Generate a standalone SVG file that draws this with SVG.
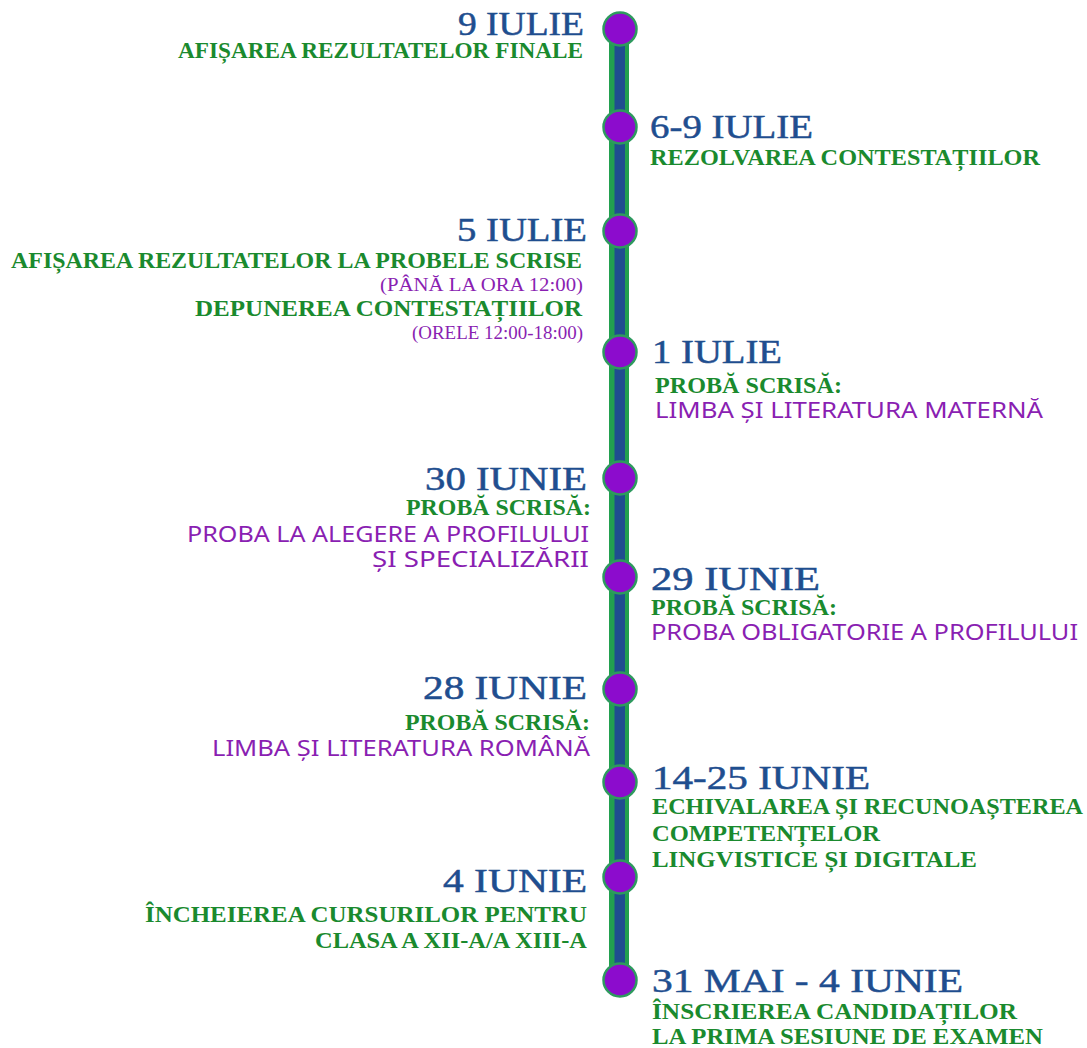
<svg xmlns="http://www.w3.org/2000/svg" width="1087" height="1048" viewBox="0 0 1087 1048">
<style>
.h{font-family:"Liberation Serif","DejaVu Serif",serif;font-size:33px;fill:#1f4e8f;stroke:#1f4e8f;stroke-width:0.5}
.g{font-family:"Liberation Serif","DejaVu Serif",serif;font-weight:bold;font-size:23px;fill:#1a8a2e}
.p{font-family:"Noto Sans","Open Sans",sans-serif;font-size:21px;fill:#8a1fb2}
.ps{font-family:"Liberation Serif","DejaVu Serif",serif;font-size:19px;fill:#8a1fb2}
.dot{fill:#8c0ccd;stroke:#2e9a5e;stroke-width:2.5}
</style>
<rect width="1087" height="1048" fill="#ffffff"/>
<g id="connectors">
<rect x="609" y="29" width="20" height="951" fill="#22a04f"/>
<rect x="614.5" y="29" width="10.5" height="951" fill="#1f4e8f"/>
</g>
<g id="n1">
<circle class="dot" cx="620" cy="29" r="16.5"/>
<text class="h" x="458" y="35" textLength="126" lengthAdjust="spacingAndGlyphs">9 IULIE</text>
<text class="g" x="178" y="58" textLength="405" lengthAdjust="spacingAndGlyphs">AFIȘAREA REZULTATELOR FINALE</text>
</g>
<g id="n2">
<circle class="dot" cx="620" cy="127" r="16.5"/>
<text class="h" x="650" y="138" textLength="163" lengthAdjust="spacingAndGlyphs">6-9 IULIE</text>
<text class="g" x="650" y="165" textLength="390" lengthAdjust="spacingAndGlyphs">REZOLVAREA CONTESTAȚIILOR</text>
</g>
<g id="n3">
<circle class="dot" cx="620" cy="231" r="16.5"/>
<text class="h" x="457" y="241" textLength="130" lengthAdjust="spacingAndGlyphs">5 IULIE</text>
<text class="g" x="11" y="268" textLength="571" lengthAdjust="spacingAndGlyphs">AFIȘAREA REZULTATELOR LA PROBELE SCRISE</text>
<text class="ps" x="380" y="291" textLength="203" lengthAdjust="spacingAndGlyphs">(PÂNĂ LA ORA 12:00)</text>
<text class="g" x="195" y="316" textLength="387" lengthAdjust="spacingAndGlyphs">DEPUNEREA CONTESTAȚIILOR</text>
<text class="ps" x="412" y="339" textLength="171" lengthAdjust="spacingAndGlyphs">(ORELE 12:00-18:00)</text>
</g>
<g id="n4">
<circle class="dot" cx="620" cy="352" r="16.5"/>
<text class="h" x="652" y="363" textLength="130" lengthAdjust="spacingAndGlyphs">1 IULIE</text>
<text class="g" x="655" y="393" textLength="187" lengthAdjust="spacingAndGlyphs">PROBĂ SCRISĂ:</text>
<text class="p" x="655" y="418" textLength="388" lengthAdjust="spacingAndGlyphs">LIMBA ȘI LITERATURA MATERNĂ</text>
</g>
<g id="n5">
<circle class="dot" cx="620" cy="478" r="16.5"/>
<text class="h" x="425" y="490" textLength="162" lengthAdjust="spacingAndGlyphs">30 IUNIE</text>
<text class="g" x="406" y="515" textLength="185" lengthAdjust="spacingAndGlyphs">PROBĂ SCRISĂ:</text>
<text class="p" x="187" y="542" textLength="402" lengthAdjust="spacingAndGlyphs">PROBA LA ALEGERE A PROFILULUI</text>
<text class="p" x="372" y="567" textLength="217" lengthAdjust="spacingAndGlyphs">ȘI SPECIALIZĂRII</text>
</g>
<g id="n6">
<circle class="dot" cx="620" cy="577" r="16.5"/>
<text class="h" x="651" y="590" textLength="169" lengthAdjust="spacingAndGlyphs">29 IUNIE</text>
<text class="g" x="651" y="615" textLength="186" lengthAdjust="spacingAndGlyphs">PROBĂ SCRISĂ:</text>
<text class="p" x="651" y="640" textLength="427" lengthAdjust="spacingAndGlyphs">PROBA OBLIGATORIE A PROFILULUI</text>
</g>
<g id="n7">
<circle class="dot" cx="620" cy="689" r="16.5"/>
<text class="h" x="423" y="699" textLength="164" lengthAdjust="spacingAndGlyphs">28 IUNIE</text>
<text class="g" x="405" y="730" textLength="185" lengthAdjust="spacingAndGlyphs">PROBĂ SCRISĂ:</text>
<text class="p" x="212" y="756" textLength="378" lengthAdjust="spacingAndGlyphs">LIMBA ȘI LITERATURA ROMÂNĂ</text>
</g>
<g id="n8">
<circle class="dot" cx="620" cy="782" r="16.5"/>
<text class="h" x="652" y="789" textLength="218" lengthAdjust="spacingAndGlyphs">14-25 IUNIE</text>
<text class="g" x="652" y="814" textLength="431" lengthAdjust="spacingAndGlyphs">ECHIVALAREA ȘI RECUNOAȘTEREA</text>
<text class="g" x="652" y="841" textLength="228" lengthAdjust="spacingAndGlyphs">COMPETENȚELOR</text>
<text class="g" x="652" y="867" textLength="325" lengthAdjust="spacingAndGlyphs">LINGVISTICE ȘI DIGITALE</text>
</g>
<g id="n9">
<circle class="dot" cx="620" cy="877" r="16.5"/>
<text class="h" x="443" y="892" textLength="144" lengthAdjust="spacingAndGlyphs">4 IUNIE</text>
<text class="g" x="145" y="922" textLength="442" lengthAdjust="spacingAndGlyphs">ÎNCHEIEREA CURSURILOR PENTRU</text>
<text class="g" x="315" y="948" textLength="272" lengthAdjust="spacingAndGlyphs">CLASA A XII-A/A XIII-A</text>
</g>
<g id="n10">
<circle class="dot" cx="620" cy="980" r="16.5"/>
<text class="h" x="652" y="992" textLength="311" lengthAdjust="spacingAndGlyphs">31 MAI - 4 IUNIE</text>
<text class="g" x="652" y="1019" textLength="365" lengthAdjust="spacingAndGlyphs">ÎNSCRIEREA CANDIDAȚILOR</text>
<text class="g" x="652" y="1044" textLength="391" lengthAdjust="spacingAndGlyphs">LA PRIMA SESIUNE DE EXAMEN</text>
</g>
</svg>
